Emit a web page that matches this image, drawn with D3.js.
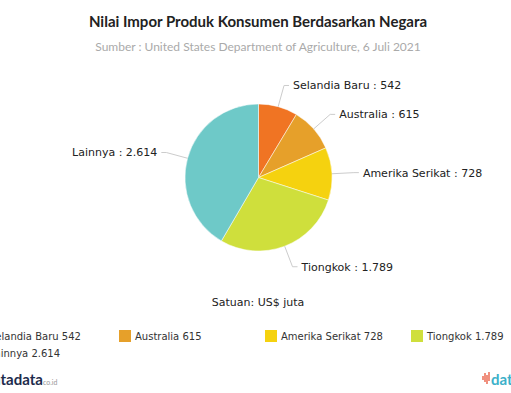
<!doctype html>
<html>
  <head>
    <meta charset="utf-8">
    <title>Nilai Impor Produk Konsumen Berdasarkan Negara</title>
    <style>
      body { margin: 0; background: #fff; }
      svg text { font-family: "DejaVu Sans", Verdana, sans-serif; }
    </style>
    <script src="https://cdnjs.cloudflare.com/ajax/libs/d3/7.8.5/d3.min.js"></script>
  </head>
  <body>
    <div id="chart"></div>
    <script>
      const countries = ['Selandia Baru', 'Australia', 'Amerika Serikat', 'Tiongkok', 'Lainnya'];
      const values = [542, 615, 728, 1789, 2614];
      const labels = ['542', '615', '728', '1.789', '2.614'];
      const colors = ['#f07423', '#e6a02a', '#f5d20f', '#cfdf3c', '#6ec9c8'];

      const data = countries.map((c, i) => ({ name: c, value: values[i], label: labels[i], color: colors[i] }));

      const W = 511, H = 393;
      const cx = 258.5, cy = 177.5, r = 73.5;

      const svg = d3.select('#chart').append('svg')
        .attr('width', W)
        .attr('height', H);

      svg.append('text')
        .attr('x', 258).attr('y', 27)
        .attr('text-anchor', 'middle')
        .style('font-family', 'Lato, sans-serif')
        .style('font-weight', 'bold')
        .style('font-size', '15px')
        .style('fill', '#222')
        .text('Nilai Impor Produk Konsumen Berdasarkan Negara');

      svg.append('text')
        .attr('x', 258).attr('y', 51)
        .attr('text-anchor', 'middle')
        .style('font-family', 'Lato, sans-serif')
        .style('font-size', '12px')
        .style('fill', '#aaa')
        .text('Sumber : United States Department of Agriculture, 6 Juli 2021');

      const pie = d3.pie().value(d => d.value).sort(null);
      const arcs = pie(data);
      const arc = d3.arc().innerRadius(0).outerRadius(r);

      const g = svg.append('g').attr('transform', `translate(${cx},${cy})`);

      g.selectAll('path')
        .data(arcs)
        .enter()
        .append('path')
        .attr('d', arc)
        .attr('fill', d => d.data.color)
        .attr('stroke', '#fff')
        .attr('stroke-width', 0.5);

      // connectors + labels
      const pt = (a, rad) => [Math.sin(a) * rad, -Math.cos(a) * rad];
      const lab = g.selectAll('g.lab')
        .data(arcs)
        .enter()
        .append('g')
        .attr('class', 'lab');

      lab.each(function(d) {
        const a = (d.startAngle + d.endAngle) / 2;
        const right = Math.sin(a) >= 0;
        const p0 = pt(a, r);
        const p1 = pt(a, r + 22);
        const dir = right ? 1 : -1;
        const p2 = [p1[0] + dir * 5, p1[1]];
        d3.select(this).append('path')
          .attr('d', d3.line()([p0, p1, p2]))
          .attr('fill', 'none')
          .attr('stroke', '#ccc')
          .attr('stroke-width', 1);
        d3.select(this).append('text')
          .attr('x', p2[0] + dir * 4)
          .attr('y', p2[1])
          .attr('dy', '0.35em')
          .attr('text-anchor', right ? 'start' : 'end')
          .style('font-size', '11px')
          .style('fill', '#222')
          .text(`${d.data.name} : ${d.data.label}`);
      });

      svg.append('text')
        .attr('x', 258).attr('y', 306)
        .attr('text-anchor', 'middle')
        .style('font-size', '11px')
        .style('fill', '#222')
        .text('Satuan: US$ juta');

      // legend
      const legend = svg.append('g').attr('transform', 'translate(-27,330)');
      const item = legend.selectAll('g')
        .data(data)
        .enter()
        .append('g')
        .attr('transform', (d, i) => `translate(${(i % 4) * 146},${Math.floor(i / 4) * 17})`);
      item.append('rect')
        .attr('width', 12).attr('height', 12)
        .attr('fill', d => d.color);
      item.append('text')
        .attr('x', 16).attr('y', 10)
        .style('font-size', '10px')
        .style('fill', '#333')
        .text(d => `${d.name} ${d.label}`);

      // logos
      const logo = svg.append('text')
        .attr('x', -15).attr('y', 385)
        .style('font-family', 'Lato, sans-serif')
        .style('font-weight', 'bold')
        .style('font-size', '15px')
        .style('fill', '#1d2c4c');
      logo.append('tspan').text('katadata');
      logo.append('tspan').style('font-size', '7px').style('fill', '#999').style('font-weight', 'normal').text('co.id');

      const ic = svg.append('g').attr('transform', 'translate(483,378)').attr('stroke', '#e8553a').attr('stroke-width', 1.3);
      [[0, -2, 2], [2, -5, 4], [4, -3, 6], [6, -6, 3]].forEach(([x, y1, y2]) => {
        ic.append('line').attr('x1', x).attr('x2', x).attr('y1', y1).attr('y2', y2);
      });
      svg.append('text')
        .attr('x', 491).attr('y', 385)
        .style('font-family', 'Lato, sans-serif')
        .style('font-weight', 'bold')
        .style('font-size', '15px')
        .style('fill', '#3bb0c9')
        .text('databoks');
    </script>
  </body>
</html>
